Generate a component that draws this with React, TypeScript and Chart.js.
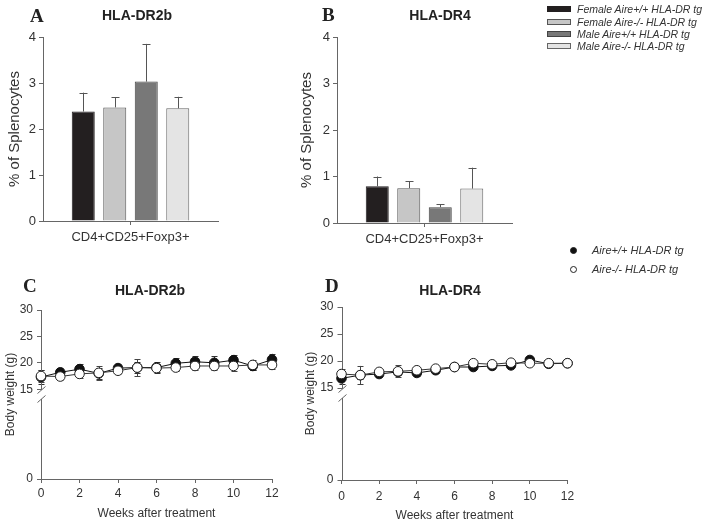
import React, { useEffect, useRef } from 'react';
import { Chart, registerables, LinearScale } from 'chart.js';

// ---------- data ----------
const barGroups = [
  'Female Aire+/+ HLA-DR tg',
  'Female Aire-/- HLA-DR tg',
  'Male Aire+/+ HLA-DR tg',
  'Male Aire-/- HLA-DR tg',
];
const barCategory = ['CD4+CD25+Foxp3+'];
const dr2bBarMeans = [2.38, 2.47, 3.03, 2.45];
const dr2bBarErrors = [0.41, 0.22, 0.82, 0.25];
const dr4BarMeans = [0.79, 0.75, 0.34, 0.74];
const dr4BarErrors = [0.21, 0.15, 0.06, 0.45];
const barTicks = [0, 1, 2, 3, 4];

const weightSeries = ['Aire+/+ HLA-DR tg', 'Aire-/- HLA-DR tg'];
const weeks = [0, 1, 2, 3, 4, 5, 6, 7, 8, 9, 10, 11, 12];
const dr2bWeightPos = [17.3, 18.2, 18.8, 18.0, 19.0, 19.1, 19.1, 19.9, 20.2, 20.0, 20.5, 19.4, 20.6];
const dr2bWeightPosErr = [1.3, 0.8, 1.0, 1.0, 0.8, 1.0, 1.0, 1.0, 1.0, 1.2, 1.0, 0.8, 1.1];
const dr2bWeightNeg = [17.5, 17.4, 17.9, 18.1, 18.5, 19.1, 19.0, 19.1, 19.4, 19.4, 19.4, 19.6, 19.6];
const dr2bWeightNegErr = [1.2, 0.6, 0.8, 1.3, 0.7, 1.6, 0.8, 0.7, 0.8, 0.8, 0.9, 1.0, 0.8];
const dr4WeightPos = [16.8, 17.4, 17.6, 18.0, 17.8, 18.3, 18.9, 18.9, 19.1, 19.2, 20.2, 19.5, 19.6];
const dr4WeightPosErr = [1.0, 0.8, 0.6, 0.6, 0.5, 0.5, 0.4, 0.5, 0.5, 0.5, 0.4, 0.4, 0.4];
const dr4WeightNeg = [17.6, 17.4, 18.0, 18.1, 18.3, 18.6, 18.9, 19.6, 19.4, 19.7, 19.6, 19.6, 19.6];
const dr4WeightNegErr = [0.9, 1.7, 0.5, 1.1, 0.5, 0.4, 0.4, 0.4, 0.4, 0.4, 0.4, 0.4, 0.4];
const weightTicks = [0, 15, 20, 25, 30];

// ---------- styles ----------
const W = 708;
const H = 525;
const SANS = "'Liberation Sans', Arial, sans-serif";
const SERIF = "'Liberation Serif', 'Times New Roman', serif";
const AXIS = '#666';
const TEXT = '#333';
const barFills = ['#231f20', '#c6c6c6', '#787878', '#e4e4e4'];
const barEdges = ['#231f20', '#555', '#444', '#666'];

// ---------- broken axis scale ----------
const BREAK_VALUE = 14;
const BREAK_FRAC = 0.5;

class BrokenLinearScale extends LinearScale {
  static id = 'brokenLinear';
  static defaults = LinearScale.defaults;
  getPixelForValue(value: any) {
    if (value === null || value === undefined || isNaN(value)) return NaN;
    const v = +value;
    const min = this.min;
    const max = this.max;
    let d;
    if (v <= BREAK_VALUE) d = (BREAK_FRAC * (v - min)) / (BREAK_VALUE - min);
    else d = BREAK_FRAC + ((1 - BREAK_FRAC) * (v - BREAK_VALUE)) / (max - BREAK_VALUE);
    return this.getPixelForDecimal(d);
  }
  getValueForPixel(pixel: number) {
    const d = this.getDecimalForPixel(pixel);
    if (d <= BREAK_FRAC) return this.min + (d / BREAK_FRAC) * (BREAK_VALUE - this.min);
    return BREAK_VALUE + ((d - BREAK_FRAC) / (1 - BREAK_FRAC)) * (this.max - BREAK_VALUE);
  }
}

Chart.register(...registerables, BrokenLinearScale as any);

// ---------- plugins ----------
function drawErrors(chart: any, both: boolean) {
  const ctx = chart.ctx;
  chart.data.datasets.forEach((ds: any, i: number) => {
    if (!ds.errors || !!ds.errorBoth !== both) return;
    const meta = chart.getDatasetMeta(i);
    const yScale = chart.scales[meta.yAxisID];
    ctx.save();
    ctx.strokeStyle = ds.errorColor || '#555';
    ctx.lineWidth = 1;
    meta.data.forEach((el: any, j: number) => {
      const raw = ds.data[j];
      const v = typeof raw === 'number' ? raw : raw.y;
      const e = ds.errors[j];
      const x = Math.round(el.x) + 0.5;
      const yTop = yScale.getPixelForValue(v + e);
      const yMid = yScale.getPixelForValue(v);
      const yBot = both ? yScale.getPixelForValue(v - e) : yMid;
      const cap = ds.errorCap || 4;
      ctx.beginPath();
      ctx.moveTo(x, yBot);
      ctx.lineTo(x, yTop);
      ctx.moveTo(x - cap, Math.round(yTop) + 0.5);
      ctx.lineTo(x + cap, Math.round(yTop) + 0.5);
      if (both) {
        ctx.moveTo(x - cap, Math.round(yBot) + 0.5);
        ctx.lineTo(x + cap, Math.round(yBot) + 0.5);
      }
      ctx.stroke();
    });
    ctx.restore();
  });
}

const errorBarPlugin = {
  id: 'errorBars',
  beforeDatasetsDraw(chart: any) {
    drawErrors(chart, true);
  },
  afterDatasetsDraw(chart: any) {
    drawErrors(chart, false);
  },
};

const brokenAxisPlugin = {
  id: 'brokenAxis',
  beforeDatasetsDraw(chart: any) {
    const y = chart.scales.y;
    if (!y || y.type !== 'brokenLinear') return;
    const ctx = chart.ctx;
    const area = chart.chartArea;
    const x0 = Math.round(area.left) + 0.5;
    const yb = y.getPixelForDecimal(BREAK_FRAC);
    ctx.save();
    ctx.strokeStyle = AXIS;
    ctx.lineWidth = 1;
    ctx.beginPath();
    ctx.moveTo(x0, area.bottom);
    ctx.lineTo(x0, yb + 4.5);
    ctx.moveTo(x0, yb - 4.5);
    ctx.lineTo(x0, area.top);
    ctx.moveTo(x0 - 4, yb - 1);
    ctx.lineTo(x0 + 4, yb - 8);
    ctx.moveTo(x0 - 4, yb + 8);
    ctx.lineTo(x0 + 4, yb + 1);
    ctx.stroke();
    ctx.restore();
  },
};

// ---------- configs ----------
const gridOpts = {
  display: true,
  drawOnChartArea: false,
  drawTicks: true,
  tickLength: 4,
  color: AXIS,
  offset: false,
};

function barConfig(means: number[], errors: number[], box: any): any {
  return {
    type: 'bar',
    data: {
      labels: barCategory,
      datasets: barGroups.map((g, i) => ({
        label: g,
        data: [means[i]],
        errors: [errors[i]],
        errorBoth: false,
        errorColor: '#555',
        errorCap: 4,
        backgroundColor: barFills[i],
        borderColor: barEdges[i],
        borderWidth: 1,
        categoryPercentage: 0.72,
        barPercentage: 0.73,
      })),
    },
    options: {
      responsive: false,
      animation: false,
      events: [],
      devicePixelRatio: 1,
      layout: { padding: box.padding },
      plugins: { legend: { display: false }, tooltip: { enabled: false } },
      scales: {
        x: {
          grid: gridOpts,
          border: { display: true, color: AXIS },
          ticks: { font: { family: SANS, size: 13 }, color: TEXT, padding: 5 },
          afterFit: (s: any) => {
            s.height = 30;
          },
        },
        y: {
          min: 0,
          max: 4,
          afterBuildTicks: (s: any) => {
            s.ticks = barTicks.map((v) => ({ value: v }));
          },
          grid: gridOpts,
          border: { display: true, color: AXIS },
          ticks: { font: { family: SANS, size: 13 }, color: TEXT, padding: 3 },
          title: {
            display: true,
            text: '% of Splenocytes',
            font: { family: SANS, size: 15 },
            color: TEXT,
            padding: { top: box.titlePad, bottom: 0 },
          },
          afterFit: (s: any) => {
            s.width = box.yWidth;
          },
        },
      },
    },
    plugins: [errorBarPlugin],
  };
}

function weightConfig(pos: number[], posErr: number[], neg: number[], negErr: number[], box: any): any {
  return {
    type: 'line',
    data: {
      datasets: [
        {
          label: weightSeries[1],
          data: weeks.map((w, i) => ({ x: w, y: neg[i] })),
          errors: negErr,
          errorBoth: true,
          errorColor: '#444',
          errorCap: 3,
          borderColor: '#333',
          borderWidth: 1,
          pointRadius: 4.8,
          pointBackgroundColor: '#fff',
          pointBorderColor: '#222',
          pointBorderWidth: 1,
          tension: 0,
          clip: false,
        },
        {
          label: weightSeries[0],
          data: weeks.map((w, i) => ({ x: w, y: pos[i] })),
          errors: posErr,
          errorBoth: true,
          errorColor: '#333',
          errorCap: 3,
          borderColor: '#111',
          borderWidth: 1,
          pointRadius: 4.8,
          pointBackgroundColor: '#111',
          pointBorderColor: '#111',
          pointBorderWidth: 1,
          tension: 0,
          clip: false,
        },
      ],
    },
    options: {
      responsive: false,
      animation: false,
      events: [],
      devicePixelRatio: 1,
      layout: { padding: box.padding },
      plugins: { legend: { display: false }, tooltip: { enabled: false } },
      scales: {
        x: {
          type: 'linear',
          min: 0,
          max: 12,
          grid: gridOpts,
          border: { display: true, color: AXIS },
          ticks: { stepSize: 2, font: { family: SANS, size: 12 }, color: TEXT, padding: box.xTickPad },
          title: {
            display: true,
            text: 'Weeks after treatment',
            font: { family: SANS, size: 12 },
            color: TEXT,
            padding: { top: 0, bottom: box.xTitlePad },
          },
          afterFit: (s: any) => {
            s.height = box.xHeight;
          },
        },
        y: {
          type: 'brokenLinear',
          min: 0,
          max: 30,
          afterBuildTicks: (s: any) => {
            s.ticks = weightTicks.map((v) => ({ value: v }));
          },
          grid: gridOpts,
          border: { display: false },
          ticks: { font: { family: SANS, size: 12 }, color: TEXT, padding: 4 },
          title: {
            display: true,
            text: 'Body weight (g)',
            font: { family: SANS, size: 12 },
            color: TEXT,
            padding: { top: box.titlePad, bottom: 0 },
          },
          afterFit: (s: any) => {
            s.width = box.yWidth;
          },
        },
      },
    },
    plugins: [errorBarPlugin, brokenAxisPlugin],
  };
}

const configs = [
  () =>
    barConfig(dr2bBarMeans, dr2bBarErrors, {
      padding: { left: 0, top: 37, right: W - 218, bottom: H - 221 - 30 },
      yWidth: 43,
      titlePad: 6,
    }),
  () =>
    barConfig(dr4BarMeans, dr4BarErrors, {
      padding: { left: 294, top: 37, right: W - 512, bottom: H - 223 - 30 },
      yWidth: 43,
      titlePad: 4,
    }),
  () =>
    weightConfig(dr2bWeightPos, dr2bWeightPosErr, dr2bWeightNeg, dr2bWeightNegErr, {
      padding: { left: 0, top: 310, right: W - 272, bottom: H - 479 - 42 },
      yWidth: 41,
      titlePad: 3,
      xTickPad: 3,
      xTitlePad: 0,
      xHeight: 42,
    }),
  () =>
    weightConfig(dr4WeightPos, dr4WeightPosErr, dr4WeightNeg, dr4WeightNegErr, {
      padding: { left: 298, top: 307, right: W - 567.5, bottom: H - 480 - 44 },
      yWidth: 43.5,
      titlePad: 5,
      xTickPad: 5,
      xTitlePad: 1,
      xHeight: 44,
    }),
];

// ---------- text helpers ----------
function Txt(props: { x: number; y: number; center?: boolean; style?: any; children: any }) {
  return (
    <div
      style={{
        position: 'absolute',
        left: props.x,
        top: props.y,
        transform: props.center ? 'translate(-50%, -50%)' : 'translateY(-50%)',
        whiteSpace: 'nowrap',
        lineHeight: 1,
        ...props.style,
      }}
    >
      {props.children}
    </div>
  );
}

const letterStyle = { fontFamily: SERIF, fontWeight: 'bold', fontSize: 19, color: '#222' };
const titleStyle = { fontFamily: SANS, fontWeight: 'bold', fontSize: 14, color: '#222' };
const legendStyle = { fontFamily: SANS, fontStyle: 'italic', fontSize: 10.5, color: TEXT };

export default function App() {
  const r0 = useRef<HTMLCanvasElement>(null);
  const r1 = useRef<HTMLCanvasElement>(null);
  const r2 = useRef<HTMLCanvasElement>(null);
  const r3 = useRef<HTMLCanvasElement>(null);
  const refs = [r0, r1, r2, r3];

  useEffect(() => {
    const charts = configs.map((cfg, i) => new Chart(refs[i].current as HTMLCanvasElement, cfg()));
    return () => charts.forEach((c) => c.destroy());
  }, []);

  const legendRows = [9, 21.5, 34, 46];
  const markerRows = [250, 269];

  return (
    <div
      style={{
        position: 'absolute',
        left: 0,
        top: 0,
        width: W,
        height: H,
        background: '#fff',
        overflow: 'hidden',
      }}
    >
      {refs.map((r, i) => (
        <canvas
          key={i}
          ref={r}
          width={W}
          height={H}
          style={{ position: 'absolute', left: 0, top: 0, width: W, height: H }}
        />
      ))}

      <Txt x={30} y={15} style={letterStyle}>A</Txt>
      <Txt x={137} y={15} center style={titleStyle}>HLA-DR2b</Txt>
      <Txt x={322} y={14} style={letterStyle}>B</Txt>
      <Txt x={440} y={15} center style={titleStyle}>HLA-DR4</Txt>
      <Txt x={23} y={285} style={letterStyle}>C</Txt>
      <Txt x={150} y={290} center style={titleStyle}>HLA-DR2b</Txt>
      <Txt x={325} y={285} style={letterStyle}>D</Txt>
      <Txt x={450} y={290} center style={titleStyle}>HLA-DR4</Txt>

      {barGroups.map((g, i) => (
        <React.Fragment key={g}>
          <div
            style={{
              position: 'absolute',
              left: 547,
              top: legendRows[i] - 3,
              width: 22,
              height: 4,
              background: barFills[i],
              border: '1px solid ' + barEdges[i],
            }}
          />
          <Txt x={577} y={legendRows[i]} style={legendStyle}>{g}</Txt>
        </React.Fragment>
      ))}

      {weightSeries.map((g, i) => (
        <React.Fragment key={g}>
          <div
            style={{
              position: 'absolute',
              left: 570,
              top: markerRows[i] - 3.5,
              width: 5,
              height: 5,
              borderRadius: '50%',
              background: i === 0 ? '#111' : '#fff',
              border: '1px solid #222',
            }}
          />
          <Txt x={592} y={markerRows[i]} style={{ ...legendStyle, fontSize: 11 }}>{g}</Txt>
        </React.Fragment>
      ))}
    </div>
  );
}
